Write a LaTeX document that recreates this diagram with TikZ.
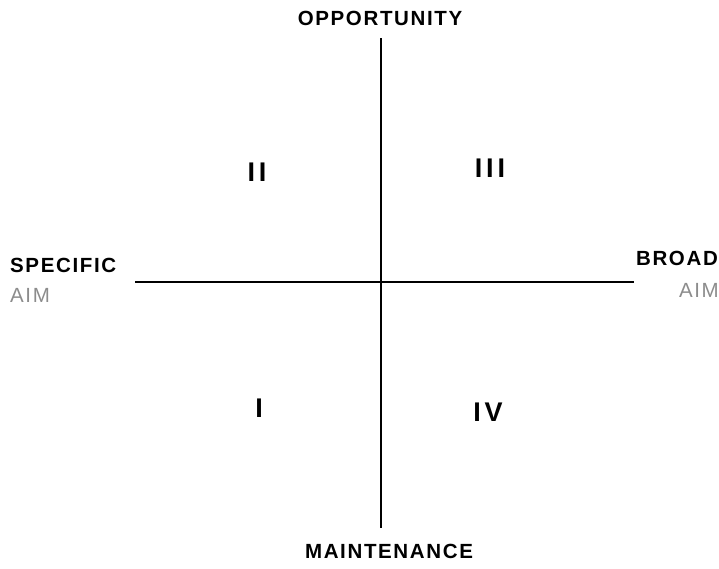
\documentclass[tikz,border=0pt]{standalone}
\usepackage{fontspec}
\setmainfont{Liberation Sans}
\newfontfamily\labfont{Liberation Sans}[LetterSpace=8]
\newfontfamily\numfont{Liberation Sans}[LetterSpace=14]
\begin{document}
\begin{tikzpicture}[x=1pt,y=-1pt,
  axis/.style={line width=1.8pt,black},
  lab/.style={inner sep=0pt,font=\labfont\fontsize{20.5}{20.5}\selectfont\bfseries},
  aimlab/.style={inner sep=0pt,text=black!45,font=\labfont\fontsize{20.5}{20.5}\selectfont},
  quad/.style={inner sep=0pt,font=\numfont\fontsize{27}{27}\selectfont\bfseries}]
\useasboundingbox (0,0) rectangle (719,568);
\coordinate (top) at (381,38);
\coordinate (bot) at (381,528);
\coordinate (lft) at (135,282);
\coordinate (rgt) at (634,282);
\draw[axis] (top) -- (bot);
\draw[axis] (lft) -- (rgt);
\node[lab] (op) at (380,18.5) {OPPORTUNITY};
\node[lab] (ma) at (389,551) {MAINTENANCE};
\node[lab,anchor=west] (sp) at (10,265.5) {SPECIFIC};
\node[aimlab,anchor=west] (aiml) at (10,295) {AIM};
\node[lab,anchor=east] (br) at (718,258.5) {BROAD};
\node[aimlab,anchor=east] (aimr) at (719,290) {AIM};
\node[quad] (q2) at (257,172) {II};
\node[quad] (q3) at (490,168) {III};
\node[quad] (q1) at (259,408) {I};
\node[quad] (q4) at (488,412) {IV};
\end{tikzpicture}
\end{document}
